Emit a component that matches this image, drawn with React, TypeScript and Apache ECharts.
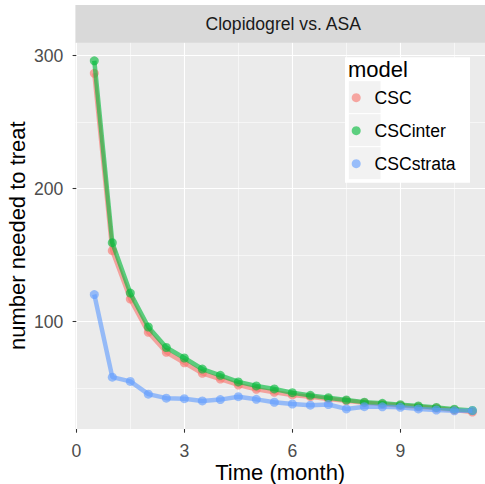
import React, { useEffect, useRef } from "react";
import * as echarts from "echarts";

const time = [0.5, 1, 1.5, 2, 2.5, 3, 3.5, 4, 4.5, 5, 5.5, 6, 6.5, 7, 7.5, 8, 8.5, 9, 9.5, 10, 10.5, 11];
const csc = [286.8, 153.4, 117, 92, 77, 69.1, 61.2, 56.9, 52.4, 49.2, 46.9, 44.9, 43.6, 41.9, 40.5, 39, 38, 37, 36, 35, 33.5, 32];
const cscInter = [296.2, 159.4, 121.5, 96, 80.6, 72.7, 64.4, 59.7, 54.7, 51.7, 49.4, 46.6, 44.6, 42.8, 41.1, 39.5, 38.6, 37.6, 36.6, 35.5, 34.2, 33.2];
const cscStrata = [120.4, 58.3, 55.1, 45.5, 42.5, 42.1, 40.4, 41.4, 43.6, 41.6, 39.4, 38.1, 37.2, 37.7, 34.4, 36.1, 36.0, 35.6, 34.4, 33.6, 33.0, 33.1];

const seriesNames = ["CSC", "CSCinter", "CSCstrata"];
const seriesColors = ["#F8766D", "#00BA38", "#619CFF"];
const xMajor = [0, 3, 6, 9];
const xMinor = [1.5, 4.5, 7.5, 10.5];
const yMajor = [100, 200, 300];
const yMinor = [50, 150, 250];
const stripTitle = "Clopidogrel vs. ASA";
const legendTitle = "model";
const xTitle = "Time (month)";
const yTitle = "number needed to treat";

const FONT = "'Liberation Sans', Arial, Helvetica, sans-serif";

export default function App() {
  const ref = useRef<HTMLDivElement>(null);
  useEffect(() => {
    if (!ref.current) return;
    const chart = echarts.init(ref.current, undefined, { renderer: "svg" });
    const L = 75.4, T = 42.3, B = 429;
    const xMin = -0.025, xMax = 11.35;
    const yMin = 19.3, yMax = 310.1;
    const datasets = [csc, cscInter, cscStrata];
    const tickStyle = { show: true, length: 3.7, lineStyle: { color: "#333333", width: 1.07 } };
    const labelStyle = { color: "#4D4D4D", fontSize: 17.6, fontFamily: FONT, lineHeight: 18 };
    chart.setOption({
      animation: false,
      backgroundColor: "#FFFFFF",
      grid: {
        left: L, top: T, right: 0, bottom: 484 - B,
        containLabel: false, outerBoundsMode: "none",
        backgroundColor: "#EBEBEB", show: true, borderWidth: 0,
      },
      xAxis: [
        {
          type: "value", min: xMin, max: xMax,
          axisLine: { show: false },
          axisTick: { ...tickStyle, customValues: xMajor },
          axisLabel: { ...labelStyle, customValues: xMajor, margin: 13 },
          splitLine: { show: true, lineStyle: { color: "#FFFFFF", width: 1.1 } },
          name: xTitle, nameLocation: "middle", nameGap: 32, nameMoveOverlap: false,
          nameTextStyle: { color: "#000000", fontSize: 22, fontFamily: FONT },
        },
        {
          type: "value", min: xMin, max: xMax, position: "bottom",
          axisLine: { show: false },
          axisTick: { show: false, customValues: xMinor },
          axisLabel: { show: false, customValues: xMinor },
          splitLine: { show: true, lineStyle: { color: "#FFFFFF", width: 0.55 } },
        },
      ],
      yAxis: [
        {
          type: "value", min: yMin, max: yMax,
          axisLine: { show: false },
          axisTick: { ...tickStyle, customValues: yMajor },
          axisLabel: { ...labelStyle, customValues: yMajor, margin: 12 },
          splitLine: { show: true, lineStyle: { color: "#FFFFFF", width: 1.1 } },
          name: yTitle, nameLocation: "middle", nameGap: 47, nameMoveOverlap: false,
          nameTextStyle: { color: "#000000", fontSize: 22, fontFamily: FONT },
        },
        {
          type: "value", min: yMin, max: yMax, position: "left",
          axisLine: { show: false },
          axisTick: { show: false, customValues: yMinor },
          axisLabel: { show: false, customValues: yMinor },
          splitLine: { show: true, lineStyle: { color: "#FFFFFF", width: 0.55 } },
        },
      ],
      legend: {
        orient: "vertical",
        left: 351.7,
        top: 87.7,
        padding: 0,
        itemGap: 13,
        itemWidth: 26.6,
        itemHeight: 9,
        icon: "circle",
        textStyle: { color: "#000000", fontSize: 17.6, fontFamily: FONT, lineHeight: 20, padding: [0, 0, 0, 0] },
        itemStyle: { opacity: 0.62 },
        data: seriesNames,
        selectedMode: false,
        z: 10,
      },
      graphic: [
        { type: "rect", shape: { x: L, y: 5, width: 485 - L, height: T - 5 + 0.5 }, style: { fill: "#D9D9D9" }, z: 5 },
        { type: "text", x: 283.2, y: 23.8, style: { text: stripTitle, fill: "#1A1A1A", fontSize: 17.6, fontFamily: FONT, align: "center", verticalAlign: "middle" }, z: 6 },
        { type: "rect", shape: { x: 345, y: 57.3, width: 125, height: 125.4 }, style: { fill: "#FFFFFF" }, z: 5 },
        { type: "text", x: 348, y: 69.5, style: { text: legendTitle, fill: "#000000", fontSize: 22, fontFamily: FONT, align: "left", verticalAlign: "middle" }, z: 6 },
        { type: "rect", shape: { x: 348.3, y: 80.7, width: 32.7, height: 33 }, style: { fill: "#F2F2F2", stroke: "#FFFFFF", lineWidth: 1 }, z: 6 },
        { type: "rect", shape: { x: 348.3, y: 113.7, width: 32.7, height: 33 }, style: { fill: "#F2F2F2", stroke: "#FFFFFF", lineWidth: 1 }, z: 6 },
        { type: "rect", shape: { x: 348.3, y: 146.7, width: 32.7, height: 33 }, style: { fill: "#F2F2F2", stroke: "#FFFFFF", lineWidth: 1 }, z: 6 },
      ],
      series: seriesNames.map((name, i) => ({
        name,
        type: "line",
        xAxisIndex: 0,
        yAxisIndex: 0,
        data: time.map((t, j) => [t, datasets[i][j]]),
        symbol: "circle",
        symbolSize: 9,
        showSymbol: true,
        color: seriesColors[i],
        lineStyle: { color: seriesColors[i], width: 4.5, opacity: 0.62 },
        itemStyle: { color: seriesColors[i], opacity: 0.62, borderWidth: 0 },
        emphasis: { disabled: true },
        z: 2 + i,
      })),
    });
    return () => chart.dispose();
  }, []);
  return <div ref={ref} style={{ position: "fixed", left: 0, top: 0, width: 485, height: 484 }} />;
}
